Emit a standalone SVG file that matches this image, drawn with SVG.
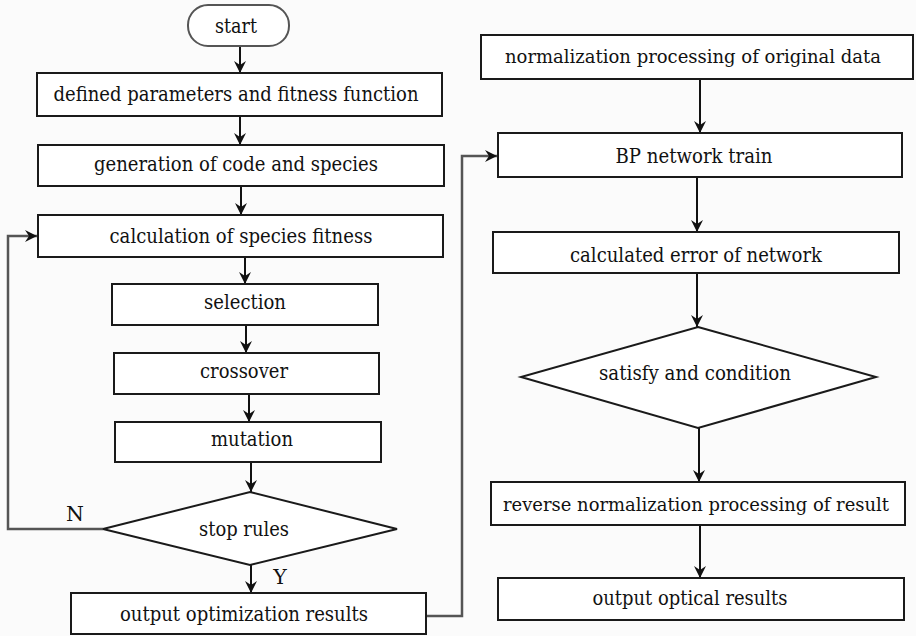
<svg xmlns="http://www.w3.org/2000/svg" width="916" height="636" viewBox="0 0 916 636">
<style>
.n{fill:#fff;stroke:#1a1a1a;stroke-width:2}
.t{font-family:"DejaVu Serif","Liberation Serif",serif;font-size:20.5px;fill:#111;text-anchor:middle}
.s{font-size:19px}
.c{fill:none;stroke:#111;stroke-width:2}
.g{fill:none;stroke:#555;stroke-width:2.5}
</style>
<defs>
<marker id="ah" markerUnits="userSpaceOnUse" markerWidth="12" markerHeight="13" viewBox="0 0 12 13" refX="12" refY="6.5" orient="auto">
<path d="M0,0.5 L12,6.5 L0,12.5 L4,6.5 Z" fill="#111"/>
</marker>
</defs>
<rect width="916" height="636" fill="#fbfbfb"/>
<g id="connectors">
<line class="c" x1="240" y1="47" x2="240" y2="73" marker-end="url(#ah)"/>
<line class="c" x1="240" y1="116" x2="240" y2="145" marker-end="url(#ah)"/>
<line class="c" x1="241" y1="186" x2="241" y2="215" marker-end="url(#ah)"/>
<line class="c" x1="245" y1="257" x2="245" y2="284" marker-end="url(#ah)"/>
<line class="c" x1="246" y1="325" x2="246" y2="353" marker-end="url(#ah)"/>
<line class="c" x1="249" y1="394" x2="249" y2="422" marker-end="url(#ah)"/>
<line class="c" x1="251" y1="462" x2="251" y2="492" marker-end="url(#ah)"/>
<line class="c" x1="251" y1="565" x2="251" y2="593" marker-end="url(#ah)"/>
<polyline class="g" points="103,529 8,529 8,236 37,236" marker-end="url(#ah)"/>
<polyline class="g" points="426,616 462,616 462,156 497,156" marker-end="url(#ah)"/>
<line class="c" x1="700" y1="79" x2="700" y2="133" marker-end="url(#ah)"/>
<line class="c" x1="697" y1="177" x2="697" y2="232" marker-end="url(#ah)"/>
<line class="c" x1="697" y1="273" x2="697" y2="327" marker-end="url(#ah)"/>
<line class="c" x1="699" y1="428" x2="699" y2="482" marker-end="url(#ah)"/>
<line class="c" x1="700" y1="525" x2="700" y2="578" marker-end="url(#ah)"/>
<text class="t" x="75" y="521">N</text>
<text class="t" x="280" y="584">Y</text>
</g>
<g id="start"><rect class="n" x="188" y="5" width="101" height="41" rx="20" ry="20" style="stroke:#555"/><text class="t" x="236" y="33" textLength="42" lengthAdjust="spacingAndGlyphs">start</text></g>
<g id="defined"><rect class="n" x="37" y="73" width="405" height="43"/><text class="t" x="236" y="101" textLength="365" lengthAdjust="spacingAndGlyphs">defined parameters and fitness function</text></g>
<g id="generation"><rect class="n" x="38" y="145" width="406" height="41"/><text class="t" x="236" y="171" textLength="284" lengthAdjust="spacingAndGlyphs">generation of code and species</text></g>
<g id="calculation"><rect class="n" x="38" y="215" width="405" height="42"/><text class="t" x="241" y="243" textLength="263" lengthAdjust="spacingAndGlyphs">calculation of species fitness</text></g>
<g id="selection"><rect class="n" x="112" y="284" width="266" height="41"/><text class="t" x="245" y="309" textLength="82" lengthAdjust="spacingAndGlyphs">selection</text></g>
<g id="crossover"><rect class="n" x="114" y="353" width="265" height="41"/><text class="t" x="244" y="378" textLength="88" lengthAdjust="spacingAndGlyphs">crossover</text></g>
<g id="mutation"><rect class="n" x="115" y="422" width="266" height="40"/><text class="t" x="252" y="446" textLength="82" lengthAdjust="spacingAndGlyphs">mutation</text></g>
<g id="stop"><polygon class="n" points="250,492 397,529 250,565 103,529"/><text class="t" x="244" y="536" textLength="90" lengthAdjust="spacingAndGlyphs">stop rules</text></g>
<g id="outopt"><rect class="n" x="71" y="593" width="355" height="41"/><text class="t" x="244" y="621" textLength="248" lengthAdjust="spacingAndGlyphs">output optimization results</text></g>
<g id="norm"><rect class="n" x="481" y="35" width="432" height="44"/><text class="t s" x="693" y="63" textLength="376" lengthAdjust="spacingAndGlyphs">normalization processing of original data</text></g>
<g id="bp"><rect class="n" x="498" y="133" width="404" height="44"/><text class="t" x="694" y="163" textLength="157" lengthAdjust="spacingAndGlyphs">BP network train</text></g>
<g id="calcerr"><rect class="n" x="493" y="232" width="406" height="41"/><text class="t" x="696" y="262" textLength="252" lengthAdjust="spacingAndGlyphs">calculated error of network</text></g>
<g id="satisfy"><polygon class="n" points="698,327 876,377 698,428 521,377"/><text class="t" x="695" y="380" textLength="192" lengthAdjust="spacingAndGlyphs">satisfy and condition</text></g>
<g id="reverse"><rect class="n" x="491" y="482" width="414" height="43"/><text class="t s" x="696" y="511" textLength="386" lengthAdjust="spacingAndGlyphs">reverse normalization processing of result</text></g>
<g id="outopt2"><rect class="n" x="498" y="578" width="406" height="42"/><text class="t" x="690" y="605" textLength="195" lengthAdjust="spacingAndGlyphs">output optical results</text></g>
</svg>
